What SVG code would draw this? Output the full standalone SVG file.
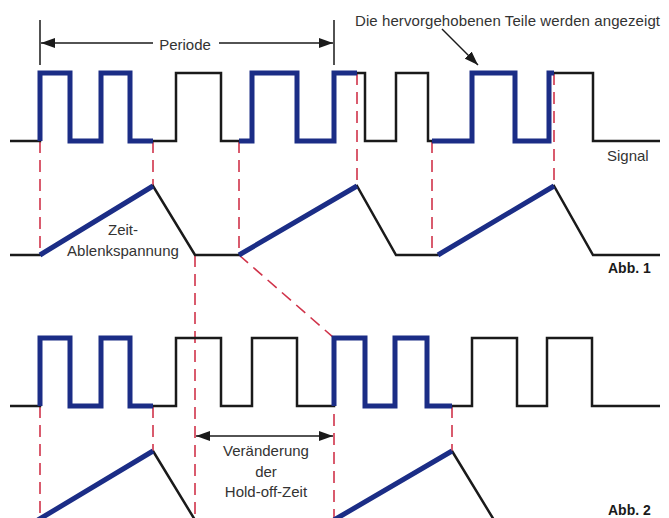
<svg xmlns="http://www.w3.org/2000/svg" width="669" height="518" viewBox="0 0 669 518">
<style>
.t{font-family:"Liberation Sans",Arial,sans-serif;font-size:15px;fill:#333}
.b{font-family:"Liberation Sans",Arial,sans-serif;font-size:14px;font-weight:bold;fill:#1a1a1a}
.blk{fill:none;stroke:#1a1a1a;stroke-width:2.5;stroke-linejoin:miter}
.blu{fill:none;stroke:#1b2d86;stroke-width:5;stroke-linejoin:miter}
.red{fill:none;stroke:#d0334a;stroke-width:1.6;stroke-dasharray:12 7}
.arr{fill:none;stroke:#1a1a1a;stroke-width:1.5}
</style>
<defs>
<marker id="ah" viewBox="0 0 14 10" refX="14" refY="5" markerWidth="14" markerHeight="10" markerUnits="userSpaceOnUse" orient="auto-start-reverse">
<path d="M0,0 L14,5 L0,10 Z" fill="#1a1a1a"/>
</marker>
</defs>
<rect width="669" height="518" fill="#fff"/>
<g id="connectors">
<!-- red dashed guides -->
<path class="red" d="M40,141V255M153,141V186M239,141V255M357,73V186M432,141V255M554,73V186M195,255V518M239,255L334,338M334,338V518M40,406V518M153,406V451M452,406V451"/>
<!-- Periode -->
<path class="arr" d="M40,20V65M334,20V65"/>
<path class="arr" d="M153,43H41" marker-end="url(#ah)"/>
<path class="arr" d="M219,43H333" marker-end="url(#ah)"/>
<!-- header arrow -->
<path class="arr" d="M442,29L478,65" marker-end="url(#ah)"/>
<!-- hold-off arrow -->
<path class="arr" d="M196,436H333" marker-start="url(#ah)" marker-end="url(#ah)"/>
</g>
<g id="signal1">
<path class="blk" d="M10,141H40V73H70V141H101V73H130V141H176V73H221V141H252V73H297V141H334V73H365V141H396V73H428V141H472V73H515V141H549V73H593V141H660"/>
<path class="blu" d="M40,141V73H70V141H101V73H130V141H153M239,141H252V73H297V141H334V73H357M432,141H472V73H515V141H549V73H554"/>
</g>
<g id="ramp1">
<path class="blk" d="M10,255H40L153,186L195,255H239L357,186L396,255H438L554,186L593,255H660"/>
<path class="blu" d="M40,255L153,186M239,255L357,186M438,255L554,186"/>
</g>
<g id="signal2">
<path class="blk" d="M10,406H40V338H70V406H101V338H130V406H176V338H221V406H252V338H297V406H334V338H365V406H395V338H427V406H472V338H517V406H547V338H592V406H660"/>
<path class="blu" d="M40,406V338H70V406H101V338H130V406H153M334,406V338H365V406H395V338H427V406H452"/>
</g>
<g id="ramp2">
<path class="blk" d="M153,451L195,520M452,451L494,520"/>
<path class="blu" d="M38,520L153,451M334,520L452,451"/>
</g>
<g id="labels">
<text class="t" x="355" y="26" textLength="305">Die hervorgehobenen Teile werden angezeigt</text>
<text class="t" x="185" y="50" text-anchor="middle">Periode</text>
<text class="t" x="607" y="161">Signal</text>
<text class="t" x="123" y="235" text-anchor="middle">Zeit-</text>
<text class="t" x="123" y="256" text-anchor="middle">Ablenkspannung</text>
<text class="b" x="608" y="273">Abb. 1</text>
<text class="t" x="266" y="456" text-anchor="middle">Veränderung</text>
<text class="t" x="266" y="477" text-anchor="middle">der</text>
<text class="t" x="266" y="497" text-anchor="middle">Hold-off-Zeit</text>
<text class="b" x="608" y="515">Abb. 2</text>
</g>
</svg>
